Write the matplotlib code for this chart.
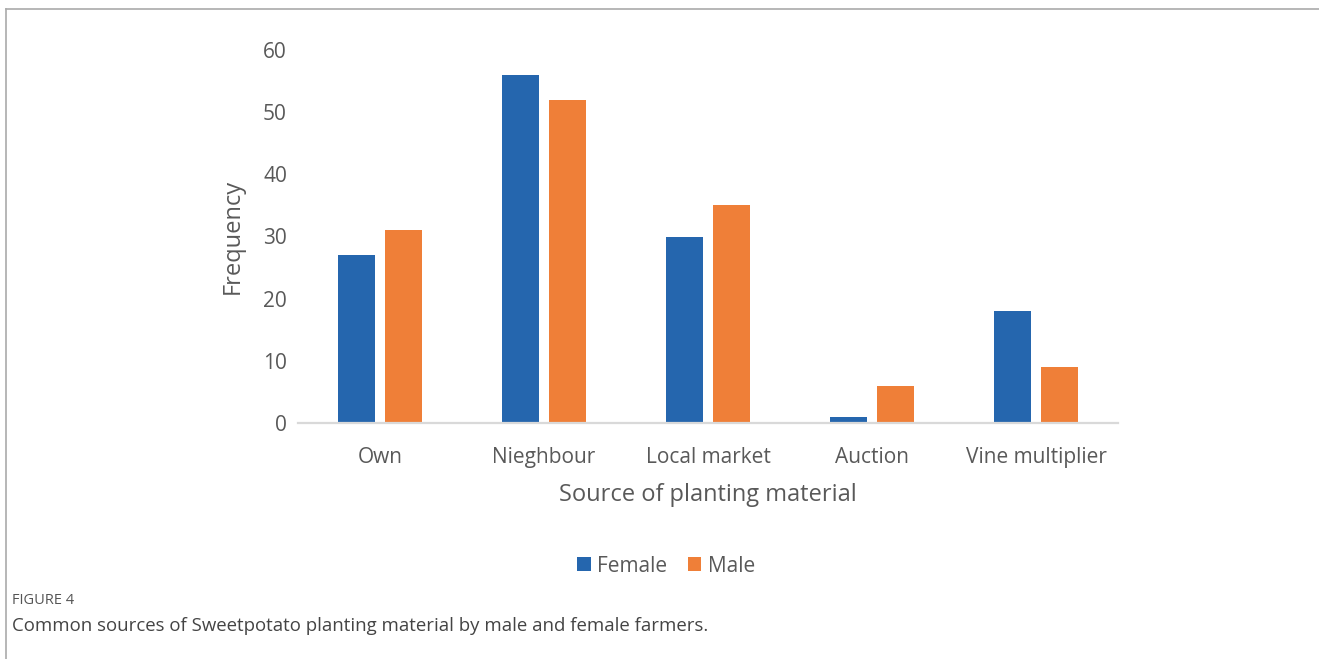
import numpy as np
import matplotlib
matplotlib.use("Agg")
import matplotlib.pyplot as plt
from matplotlib.lines import Line2D

categories = ["Own", "Nieghbour", "Local market", "Auction", "Vine multiplier"]
female = [27, 56, 30, 1, 18]
male = [31, 52, 35, 6, 9]
yticks = [0, 10, 20, 30, 40, 50, 60]

plt.rcParams['font.family'] = ['Open Sans', 'DejaVu Sans']
grey = '#595959'

fig = plt.figure(figsize=(13.19, 6.59), dpi=100)
ax = fig.add_axes([298 / 1319, 1 - 423 / 659, 820 / 1319, (423 - 50) / 659])

x = np.arange(len(categories))
w = 0.226
off = 0.143
ax.bar(x - off, female, w, color='#2566ae', label='Female')
ax.bar(x + off, male, w, color='#ef7f38', label='Male')

ax.set_xlim(-0.5, len(categories) - 0.5)
ax.set_ylim(0, 60)
ax.set_yticks(yticks)
ax.set_xticks(x)
ax.set_xticklabels(categories)
ax.tick_params(axis='both', length=0, labelsize=15, colors=grey)
ax.tick_params(axis='y', pad=8)
ax.tick_params(axis='x', pad=17)
for s in ['top', 'right', 'left']:
    ax.spines[s].set_visible(False)
ax.spines['bottom'].set_color('#d9d9d9')
ax.spines['bottom'].set_linewidth(1.6)

ax.set_xlabel('Source of planting material', fontsize=17, color=grey, labelpad=11)
ax.set_ylabel('Frequency', fontsize=17, color=grey, labelpad=13)

# legend centred a little left of the plot centre, as in the source
leg_cx = (666 - 298) / 820
ax.legend(loc='center', bbox_to_anchor=(leg_cx, -0.384), ncol=2, frameon=False,
          fontsize=15, labelcolor=grey, handlelength=0.65, handleheight=0.65,
          handletextpad=0.3, columnspacing=1.0)

# figure frame (left and top rules)
fig.add_artist(Line2D([6 / 1319, 6 / 1319], [0, 1 - 9 / 659], transform=fig.transFigure,
                      color='#aaaaaa', linewidth=1.2))
fig.add_artist(Line2D([6 / 1319, 1], [1 - 9 / 659, 1 - 9 / 659], transform=fig.transFigure,
                      color='#aaaaaa', linewidth=1.2))

fig.text(12 / 1319, 1 - 601 / 659, 'FIGURE 4', fontsize=10.5, color='#555555', va='center')
fig.text(12 / 1319, 1 - 626 / 659,
         'Common sources of Sweetpotato planting material by male and female farmers.',
         fontsize=13.4, color='#444444', va='center')

fig.savefig('out.png', dpi=100)
